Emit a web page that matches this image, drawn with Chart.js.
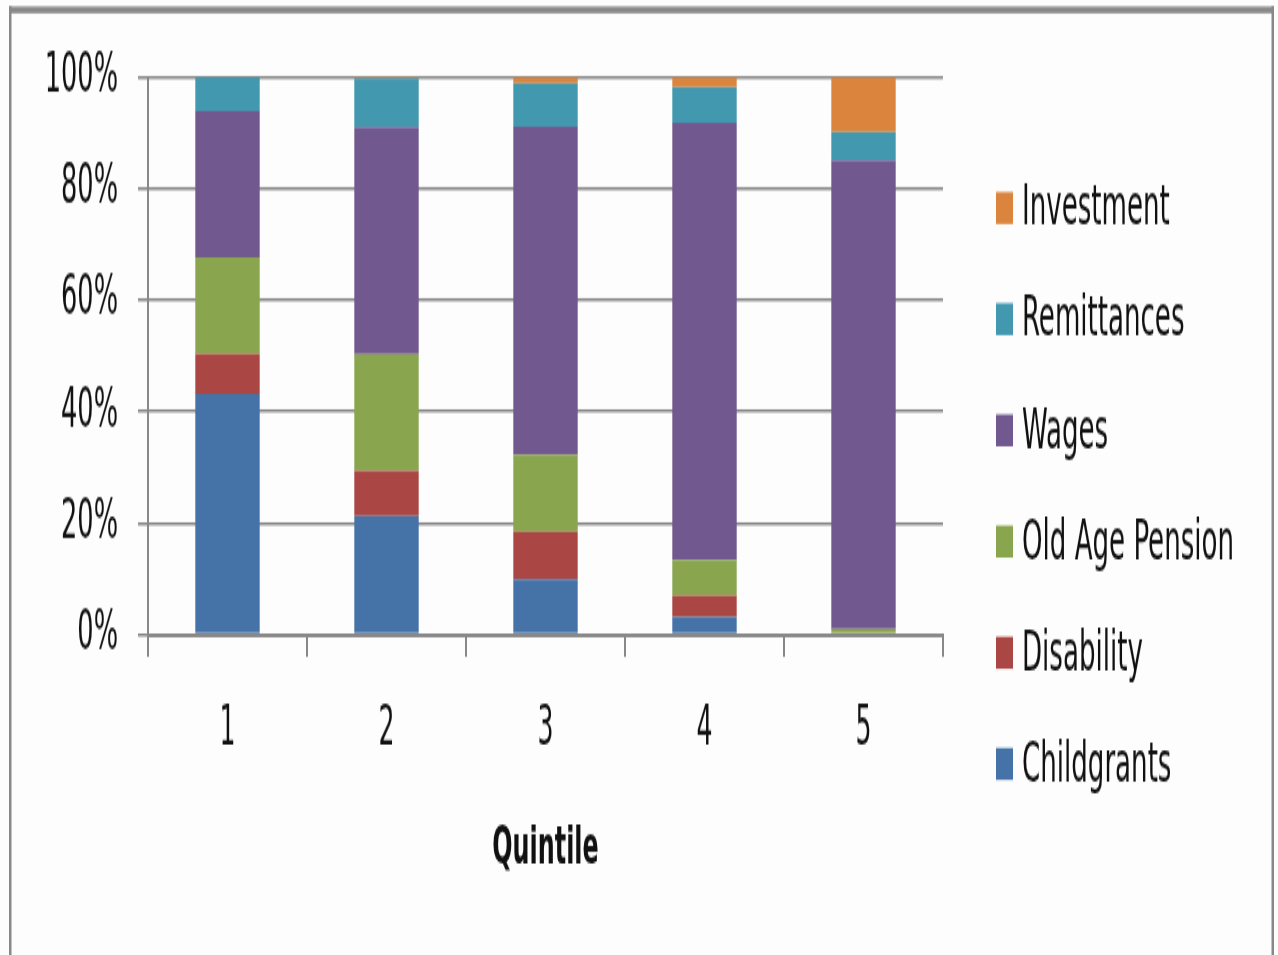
<!DOCTYPE html>
<html>
<head>
<meta charset="utf-8">
<title>Income sources by quintile</title>
<script src="https://cdn.jsdelivr.net/npm/chart.js@4"></script>
<style>
  html, body { margin: 0; padding: 0; background: #fdfdfd; overflow: hidden; }
  #wrap {
    position: absolute; left: 0; top: 0;
    width: 1278px; height: 490px;
    transform-origin: 0 0;
    transform: scale(1, 1.949);
  }
  canvas { display: block; }
</style>
</head>
<body>
<div id="wrap"><canvas id="chart" width="1278" height="490"></canvas></div>
<script>
// Share of household income by source, per income quintile (percent)
const quintiles = ['1', '2', '3', '4', '5'];
const childgrants = [43.2, 21.3, 9.9, 3.2, 0];
const disability = [7.2, 8.1, 8.6, 3.8, 0];
const oldAgePension = [17.3, 20.9, 13.8, 6.4, 1.0];
const wages = [26.2, 40.7, 58.8, 78.4, 84.1];
const remittances = [6.1, 8.7, 7.8, 6.4, 5.0];
const investment = [0, 0.3, 1.1, 1.8, 9.9];

const seriesNames = ['Childgrants', 'Disability', 'Old Age Pension', 'Wages', 'Remittances', 'Investment'];
const seriesValues = [childgrants, disability, oldAgePension, wages, remittances, investment];
const seriesColors = ['#4572A7', '#AA4643', '#89A54E', '#71588F', '#4198AF', '#DB843D'];

const xTitle = 'Quintile';
const yTickSuffix = '%';

const FONT = "'Liberation Sans Narrow', 'DejaVu Sans Condensed', 'Liberation Sans', sans-serif";
const TEXT = '#111111';
const LINE = '#888888';

// Outer frame around the figure
const framePlugin = {
  id: 'frame',
  afterDraw(chart) {
    const ctx = chart.ctx;
    ctx.save();
    ctx.fillStyle = '#a8a8a8';
    ctx.fillRect(9, 3.1, 1265, 0.9);
    ctx.fillStyle = LINE;
    ctx.fillRect(9, 4.0, 1265, 2.8);
    ctx.fillRect(9, 3.1, 2.5, chart.height);
    ctx.fillRect(1271.5, 3.1, 2.5, chart.height);
    ctx.restore();
  }
};

// Legend column on the right, top entry = last series
const sideLegend = {
  id: 'sideLegend',
  afterDraw(chart) {
    const ctx = chart.ctx;
    const sets = chart.data.datasets.slice().reverse();
    ctx.save();
    ctx.font = '29px ' + FONT;
    ctx.textBaseline = 'alphabetic';
    ctx.textAlign = 'left';
    sets.forEach((ds, i) => {
      const step = 57.05 * i;
      ctx.fillStyle = ds.backgroundColor;
      ctx.fillRect(996, 98.5 + step, 17, 16.4);
      ctx.fillStyle = TEXT;
      ctx.fillText(ds.label, 1022, 115.4 + step);
    });
    ctx.restore();
  }
};

new Chart(document.getElementById('chart'), {
  type: 'bar',
  data: {
    labels: quintiles,
    datasets: seriesNames.map((name, i) => ({
      label: name,
      data: seriesValues[i],
      backgroundColor: seriesColors[i],
      borderWidth: 0,
      barPercentage: 0.405,
      categoryPercentage: 1.0
    }))
  },
  options: {
    responsive: false,
    animation: false,
    devicePixelRatio: 1,
    layout: { padding: { left: 0, right: 335, top: 39.5, bottom: 0 } },
    plugins: {
      legend: { display: false },
      tooltip: { enabled: false }
    },
    scales: {
      x: {
        stacked: true,
        offset: true,
        grid: {
          offset: true,
          drawOnChartArea: false,
          drawTicks: true,
          tickLength: 11.5,
          color: LINE,
          lineWidth: 2
        },
        border: { display: true, color: LINE, width: 2.05 },
        ticks: { padding: 20.4, color: TEXT, font: { family: FONT, size: 28 } },
        title: {
          display: true,
          text: xTitle,
          color: TEXT,
          font: { family: FONT, size: 26.5, weight: 'bold' },
          padding: { top: 0, bottom: 37.5 }
        },
        afterFit(scale) { scale.height = 164.4; }
      },
      y: {
        stacked: true,
        min: 0,
        max: 100,
        grid: { color: LINE, lineWidth: 1.55, drawTicks: true, tickLength: 10 },
        border: { display: true, color: LINE, width: 2 },
        ticks: {
          stepSize: 20,
          padding: 20,
          color: TEXT,
          font: { family: FONT, size: 28.5 },
          callback: (v) => v + yTickSuffix
        },
        afterFit(scale) { scale.width = 148; }
      }
    }
  },
  plugins: [framePlugin, sideLegend]
});
</script>
</body>
</html>
